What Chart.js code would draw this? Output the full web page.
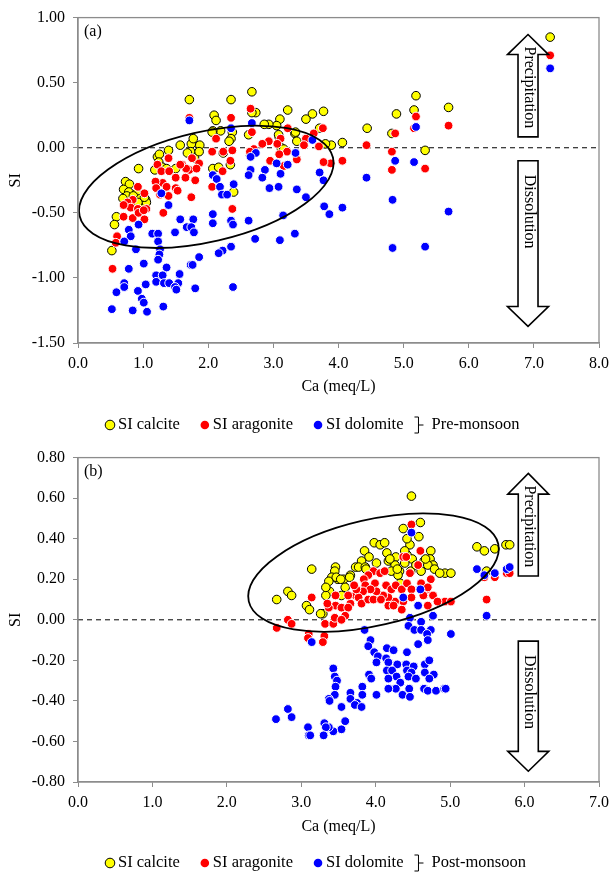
<!DOCTYPE html>
<html>
<head>
<meta charset="utf-8">
<script src="https://cdn.jsdelivr.net/npm/chart.js@4.4.0/dist/chart.umd.min.js"></script>
<style>
  body { margin: 0; background: #fff; }
  .box { position: absolute; left: 0; width: 615px; }
</style>
</head>
<body>
<div class="box" style="top:0;height:440px"><canvas id="chartA"></canvas></div>
<div class="box" style="top:440px;height:432px"><canvas id="chartB"></canvas></div>
<script>
// series names
const seriesLabels = ['SI calcite', 'SI aragonite', 'SI dolomite'];
const periodLabels = ['Pre-monsoon', 'Post-monsoon'];
const xTitle = 'Ca (meq/L)';
const yTitle = 'SI';

// (a) pre-monsoon
const preCalciteCa = [7.25,5.19,5.69,5.16,4.89,4.82,4.44,4.06,5.33,3.89,3.77,3.60,3.50,3.33,3.36,3.22,3.10,3.05,2.93,2.86,3.09,3.12,2.73,2.67,2.67,2.35,2.62,2.37,2.35,2.19,2.07,2.09,2.12,1.71,2.65,2.23,2.07,2.16,2.34,2.39,1.87,1.74,1.77,1.57,1.73,1.68,1.79,1.86,1.39,1.22,1.25,1.24,1.18,1.30,1.36,1.50,0.93,0.73,0.79,0.70,0.78,0.90,0.75,0.85,0.96,1.04,0.98,0.69,1.05,0.59,0.56,0.52,0.92,1.02,2.06,3.08,3.16,3.34,3.71,3.80,2.32];
const preCalciteSI = [0.85,0.40,0.31,0.29,0.26,0.11,0.15,0.04,-0.02,0.02,0.28,0.26,0.22,0.11,0.05,0.29,0.22,0.17,0.18,0.18,0.08,0.00,0.27,0.27,0.43,0.37,0.10,0.12,0.07,0.13,0.13,0.25,0.21,0.37,-0.06,-0.04,-0.16,-0.15,-0.13,-0.34,0.02,0.03,0.07,0.02,-0.03,-0.04,-0.08,-0.03,-0.02,-0.07,-0.05,-0.11,-0.17,-0.15,-0.16,-0.16,-0.16,-0.26,-0.28,-0.32,-0.34,-0.35,-0.37,-0.37,-0.39,-0.40,-0.45,-0.39,-0.42,-0.53,-0.59,-0.79,-0.42,-0.38,0.12,0.10,-0.01,0.12,0.15,0.03,0.05];
const preAragoniteCa = [7.25,5.19,5.16,5.69,4.87,4.43,4.82,4.82,5.33,4.06,3.88,3.77,3.76,3.62,3.70,3.50,3.47,3.36,3.22,3.21,3.11,3.06,3.09,3.16,2.95,2.93,2.83,2.70,2.67,2.65,2.35,2.12,2.06,2.23,2.37,2.34,2.22,2.06,2.37,2.64,1.71,1.39,1.22,1.28,1.40,1.30,1.19,1.36,1.50,1.60,1.75,1.86,1.71,1.82,1.66,1.65,1.80,1.74,1.50,0.92,0.84,0.76,0.81,0.92,1.05,1.02,0.70,0.84,0.93,1.02,0.60,0.58,0.53,1.31,1.20,1.26,1.39,1.53,1.57,1.01,0.70];
const preAragoniteSI = [0.71,0.24,0.15,0.17,0.11,0.02,-0.03,-0.17,-0.16,-0.10,-0.12,-0.11,0.15,0.11,0.01,0.07,0.02,-0.09,0.15,-0.03,0.07,0.03,-0.05,-0.14,-0.10,0.05,0.03,-0.01,0.12,0.30,0.23,0.07,-0.03,-0.03,-0.02,-0.10,-0.18,-0.30,-0.47,-0.03,0.23,-0.08,-0.13,-0.18,-0.18,-0.27,-0.26,-0.30,-0.31,-0.13,-0.08,-0.12,-0.17,-0.16,-0.16,-0.23,-0.25,-0.38,-0.23,-0.30,-0.40,-0.42,-0.46,-0.47,-0.47,-0.35,-0.53,-0.54,-0.50,-0.55,-0.68,-0.73,-0.93,-0.50,-0.31,-0.36,-0.37,-0.33,-0.13,-0.48,-0.44];
const preDolomiteCa = [7.25,5.19,1.71,2.67,2.35,3.60,2.73,2.65,3.34,3.05,3.22,3.11,2.87,2.65,2.62,2.83,2.07,2.13,2.18,2.21,2.29,2.39,2.94,3.08,3.36,3.50,3.77,3.71,4.87,5.16,4.43,4.83,1.28,1.39,3.78,3.86,4.06,5.69,4.83,5.33,3.33,3.10,2.72,2.62,2.35,2.38,2.35,2.22,2.16,2.07,2.07,3.15,1.77,1.57,1.67,1.74,1.78,1.49,0.93,0.78,0.81,0.71,1.14,1.23,1.23,0.89,1.26,1.25,1.23,1.86,1.73,1.76,1.01,0.78,1.36,1.20,1.30,1.56,1.20,1.32,1.40,1.54,1.04,1.49,1.51,0.71,0.71,0.59,0.92,0.98,1.01,1.31,0.52,0.84,1.06,1.80,2.38];
const preDolomiteSI = [0.61,0.16,0.21,0.19,0.15,0.06,-0.04,-0.07,-0.04,-0.12,-0.13,-0.20,-0.17,-0.17,-0.21,-0.23,-0.21,-0.24,-0.30,-0.36,-0.36,-0.28,-0.31,-0.30,-0.32,-0.38,-0.25,-0.19,-0.10,-0.11,-0.23,-0.40,-0.35,-0.44,-0.45,-0.51,-0.46,-0.49,-0.77,-0.76,-0.66,-0.71,-0.70,-0.56,-0.56,-0.59,-0.76,-0.79,-0.81,-0.51,-0.58,-0.52,-0.55,-0.55,-0.61,-0.61,-0.65,-0.65,-0.59,-0.63,-0.68,-0.72,-0.66,-0.66,-0.72,-0.78,-0.78,-0.82,-0.86,-0.84,-0.90,-0.90,-0.89,-0.93,-0.92,-0.98,-0.98,-0.97,-1.03,-1.04,-1.04,-1.04,-1.05,-1.07,-1.09,-1.04,-1.07,-1.11,-1.10,-1.16,-1.19,-1.22,-1.24,-1.25,-1.26,-1.08,-1.07];

// (b) post-monsoon
const postCalciteCa = [4.48,4.60,4.37,4.58,3.98,4.06,4.12,4.46,3.85,3.91,4.15,4.27,4.17,4.42,4.49,4.74,4.65,4.73,4.77,4.01,3.81,3.73,3.77,3.86,3.46,3.45,3.66,3.57,3.41,3.37,3.49,3.59,3.38,3.54,3.33,3.14,2.82,2.87,2.67,3.07,3.11,3.29,4.26,4.32,4.39,4.47,4.54,4.61,4.70,4.79,4.21,4.30,4.33,4.67,4.93,5.01,4.86,5.36,5.46,5.60,5.75,5.80,5.49,3.33,3.47,3.53,3.65,4.19,4.29,4.39,4.42,3.87,3.26];
const postCalciteSI = [0.61,0.48,0.45,0.41,0.38,0.37,0.38,0.37,0.34,0.31,0.33,0.31,0.29,0.32,0.30,0.34,0.29,0.30,0.27,0.28,0.29,0.26,0.26,0.26,0.26,0.24,0.22,0.20,0.21,0.19,0.20,0.16,0.14,0.12,0.12,0.25,0.14,0.12,0.10,0.07,0.05,0.03,0.27,0.24,0.28,0.24,0.27,0.24,0.27,0.25,0.24,0.22,0.18,0.30,0.23,0.23,0.23,0.36,0.34,0.35,0.37,0.37,0.24,0.16,0.21,0.20,0.21,0.30,0.25,0.34,0.40,0.25,0.03];
const postAragoniteCa = [4.48,4.60,4.37,4.57,4.46,3.97,4.06,4.12,3.90,3.84,3.86,3.99,4.14,4.21,4.27,4.35,4.42,4.48,4.61,4.68,4.74,4.77,4.65,4.48,4.37,4.26,4.17,4.10,4.01,3.93,3.83,3.73,3.77,3.66,3.81,3.90,3.97,4.07,4.17,4.24,4.35,3.46,3.46,3.54,3.37,3.63,3.59,3.32,3.43,3.14,2.82,2.87,2.67,3.35,3.63,3.74,3.71,3.10,3.09,3.31,3.29,3.45,3.54,4.70,4.64,4.70,4.93,5.01,4.83,5.46,5.49,5.60,5.76,5.80,4.41];
const postAragoniteSI = [0.47,0.34,0.31,0.27,0.23,0.24,0.23,0.24,0.22,0.20,0.17,0.18,0.17,0.15,0.17,0.15,0.18,0.15,0.18,0.15,0.20,0.12,0.12,0.11,0.09,0.09,0.11,0.12,0.14,0.15,0.14,0.12,0.11,0.08,0.08,0.10,0.10,0.10,0.07,0.07,0.05,0.12,0.07,0.06,0.06,0.06,0.02,-0.02,-0.02,0.11,0.00,-0.02,-0.04,0.08,0.12,0.15,0.17,-0.07,-0.09,-0.08,-0.11,0.01,0.00,0.16,0.12,0.07,0.09,0.09,0.09,0.21,0.10,0.21,0.23,0.23,0.31];
const postDolomiteCa = [4.48,4.60,4.37,4.57,4.46,4.77,4.44,4.52,4.61,4.61,4.74,3.85,5.36,5.46,5.60,5.76,5.80,5.49,5.01,4.69,3.14,3.93,3.90,3.98,4.15,4.24,4.42,4.70,4.57,4.03,4.14,4.01,4.17,4.29,4.41,4.51,4.66,4.72,4.15,4.22,4.42,4.48,4.66,4.78,4.28,4.17,4.44,4.54,4.72,4.33,4.27,4.17,4.36,4.45,4.46,4.65,4.70,4.81,4.92,4.94,3.91,3.94,4.01,3.43,3.45,3.48,3.46,3.45,3.37,3.38,3.66,3.66,3.82,3.82,3.75,3.72,3.81,3.54,3.59,3.54,3.43,3.37,3.31,3.33,3.30,3.09,3.10,3.12,2.82,2.87,2.66];
const postDolomiteSI = [0.43,0.15,0.11,0.07,0.01,0.02,-0.03,-0.05,-0.01,-0.05,-0.05,-0.05,0.25,0.22,0.23,0.25,0.26,0.02,-0.07,-0.07,-0.11,-0.10,-0.13,-0.16,-0.14,-0.15,-0.16,-0.10,-0.12,-0.18,-0.19,-0.21,-0.21,-0.22,-0.22,-0.23,-0.22,-0.20,-0.25,-0.25,-0.25,-0.26,-0.26,-0.27,-0.28,-0.29,-0.28,-0.29,-0.29,-0.31,-0.34,-0.34,-0.37,-0.34,-0.38,-0.34,-0.35,-0.35,-0.34,-0.34,-0.27,-0.29,-0.37,-0.24,-0.28,-0.30,-0.33,-0.37,-0.39,-0.40,-0.36,-0.39,-0.33,-0.37,-0.41,-0.42,-0.43,-0.43,-0.50,-0.54,-0.55,-0.53,-0.51,-0.53,-0.57,-0.53,-0.57,-0.57,-0.44,-0.48,-0.49];

const serif = '"Liberation Serif", "Times New Roman", serif';
const pts = (xs, ys) => xs.map((v, i) => ({ x: v, y: ys[i] }));

function makeDatasets(cCa, cSI, aCa, aSI, dCa, dSI) {
  return [
    { label: seriesLabels[0], data: pts(cCa, cSI), backgroundColor: '#ffff00', borderColor: '#000', borderWidth: 1, pointRadius: 4.3, order: 3 },
    { label: seriesLabels[1], data: pts(aCa, aSI), backgroundColor: '#ff0000', borderColor: '#fff', borderWidth: 1, pointRadius: 4.4, order: 2 },
    { label: seriesLabels[2], data: pts(dCa, dSI), backgroundColor: '#0000ff', borderColor: '#fff', borderWidth: 1, pointRadius: 4.4, order: 1 }
  ];
}

// block arrow with rotated text
function drawArrow(ctx, xs, ys, ar) {
  const cx = xs.getPixelForValue(ar.x);
  const tip = ys.getPixelForValue(ar.tip), base = ys.getPixelForValue(ar.base), tail = ys.getPixelForValue(ar.tail);
  const sh = 10, hh = 20.5;
  ctx.beginPath();
  ctx.moveTo(cx, tip);
  ctx.lineTo(cx + hh, base);
  ctx.lineTo(cx + sh, base);
  ctx.lineTo(cx + sh, tail);
  ctx.lineTo(cx - sh, tail);
  ctx.lineTo(cx - sh, base);
  ctx.lineTo(cx - hh, base);
  ctx.closePath();
  ctx.fillStyle = '#fff';
  ctx.fill();
  ctx.lineWidth = 1.6;
  ctx.strokeStyle = '#000';
  ctx.stroke();
  const start = ar.tip > ar.tail ? tip + 12 : tail + 14;
  ctx.save();
  ctx.translate(cx + 1, start);
  ctx.rotate(Math.PI / 2);
  ctx.fillStyle = '#000';
  ctx.font = '16px ' + serif;
  ctx.textAlign = 'left';
  ctx.textBaseline = 'middle';
  ctx.fillText(ar.text, 0, 0);
  ctx.restore();
}

function makeDecor(cfg) {
  return {
    id: 'decor',
    beforeDatasetsDraw(chart) {
      const { ctx, chartArea: a, scales: { y } } = chart;
      const y0 = y.getPixelForValue(0);
      ctx.save();
      ctx.strokeStyle = '#000';
      ctx.lineWidth = 1;
      ctx.setLineDash([5, 4]);
      ctx.beginPath();
      ctx.moveTo(a.left, y0);
      ctx.lineTo(a.right, y0);
      ctx.stroke();
      ctx.restore();
    },
    afterDatasetsDraw(chart) {
      const { ctx, chartArea: a, scales: { x, y } } = chart;
      ctx.save();
      // ellipse
      const e = cfg.ellipse;
      ctx.beginPath();
      ctx.ellipse(x.getPixelForValue(e.x), y.getPixelForValue(e.y), e.rx, e.ry, e.rot * Math.PI / 180, 0, Math.PI * 2);
      ctx.strokeStyle = '#000';
      ctx.lineWidth = 1.8;
      ctx.stroke();
      cfg.arrows.forEach(ar => drawArrow(ctx, x, y, ar));
      // frame
      ctx.strokeStyle = '#8c8c8c';
      ctx.lineWidth = 1.3;
      ctx.strokeRect(a.left, a.top, a.right - a.left, a.bottom - a.top);
      // panel label
      ctx.fillStyle = '#000';
      ctx.font = '16px ' + serif;
      ctx.textBaseline = 'middle';
      ctx.fillText(cfg.panel, a.left + 6, a.top + 14);
      ctx.restore();
    },
    afterDraw(chart) {
      const { ctx } = chart;
      const ly = cfg.legendY;
      let lx = 110;
      ctx.save();
      ctx.font = '16.5px ' + serif;
      ctx.textBaseline = 'middle';
      chart.data.datasets.forEach(ds => {
        ctx.beginPath();
        ctx.arc(lx, ly, ds.borderColor === '#000' ? 4.8 : 4.3, 0, Math.PI * 2);
        ctx.fillStyle = ds.backgroundColor;
        ctx.fill();
        if (ds.borderColor === '#000') { ctx.lineWidth = 1; ctx.strokeStyle = '#000'; ctx.stroke(); }
        ctx.fillStyle = '#000';
        ctx.fillText(ds.label, lx + 8, ly);
        lx += 8 + ctx.measureText(ds.label).width + 25;
      });
      // bracket
      const bx = lx - 10;
      ctx.beginPath();
      ctx.moveTo(bx - 4, ly - 8);
      ctx.lineTo(bx, ly - 8);
      ctx.lineTo(bx, ly + 8);
      ctx.lineTo(bx - 4, ly + 8);
      ctx.moveTo(bx, ly);
      ctx.lineTo(bx + 5, ly);
      ctx.strokeStyle = '#000';
      ctx.lineWidth = 1;
      ctx.stroke();
      ctx.fillText(cfg.period, bx + 13, ly);
      ctx.restore();
    }
  };
}

function makeChart(id, datasets, ax, cfg) {
  const tickFont = { family: serif, size: 16 };
  new Chart(document.getElementById(id), {
    type: 'scatter',
    data: { datasets },
    options: {
      responsive: true,
      maintainAspectRatio: false,
      animation: false,
      layout: { padding: { left: 0, right: 13, top: cfg.padTop, bottom: cfg.padBottom } },
      plugins: { legend: { display: false }, tooltip: { enabled: false } },
      scales: {
        x: {
          type: 'linear', min: ax.xMin, max: ax.xMax,
          ticks: { stepSize: ax.xStep, color: '#000', font: tickFont, padding: 6, callback: v => v.toFixed(1) },
          grid: { drawOnChartArea: false, tickLength: 5, color: '#8c8c8c' },
          border: { color: '#8c8c8c', width: 1.3 },
          title: { display: true, text: xTitle, color: '#000', font: tickFont, padding: 0 },
          afterFit: s => { s.height = cfg.xHeight; }
        },
        y: {
          type: 'linear', min: ax.yMin, max: ax.yMax,
          ticks: { stepSize: ax.yStep, color: '#000', font: tickFont, padding: 8,
            callback: v => (Math.abs(v) < 1e-9 ? 0 : v).toFixed(2) },
          grid: { drawOnChartArea: false, tickLength: 5, color: '#8c8c8c' },
          border: { color: '#8c8c8c', width: 1.3 },
          title: { display: true, text: yTitle, color: '#000', font: tickFont, padding: { top: 6, bottom: 0 } },
          afterFit: s => { s.width = 78; }
        }
      }
    },
    plugins: [makeDecor(cfg)]
  });
}

makeChart('chartA',
  makeDatasets(preCalciteCa, preCalciteSI, preAragoniteCa, preAragoniteSI, preDolomiteCa, preDolomiteSI),
  { xMin: 0, xMax: 8, xStep: 1, yMin: -1.5, yMax: 1, yStep: 0.5 },
  {
    padTop: 15, padBottom: 43.4, xHeight: 53.6, legendY: 425, panel: '(a)', period: periodLabels[0],
    ellipse: { x: 1.97, y: -0.30, rx: 130, ry: 55, rot: -13 },
    arrows: [
      { x: 6.91, tip: 0.87, base: 0.716, tail: 0.084, text: 'Precipitation' },
      { x: 6.91, tip: -1.372, base: -1.22, tail: -0.10, text: 'Dissolution' }
    ]
  });

makeChart('chartB',
  makeDatasets(postCalciteCa, postCalciteSI, postAragoniteCa, postAragoniteSI, postDolomiteCa, postDolomiteSI),
  { xMin: 0, xMax: 7, xStep: 1, yMin: -0.8, yMax: 0.8, yStep: 0.2 },
  {
    padTop: 13, padBottom: 35.4, xHeight: 54.6, legendY: 423, panel: '(b)', period: periodLabels[1],
    ellipse: { x: 3.97, y: 0.233, rx: 128, ry: 53, rot: -13 },
    arrows: [
      { x: 6.05, tip: 0.722, base: 0.62, tail: 0.216, text: 'Precipitation' },
      { x: 6.05, tip: -0.747, base: -0.649, tail: -0.105, text: 'Dissolution' }
    ]
  });
</script>
</body>
</html>
